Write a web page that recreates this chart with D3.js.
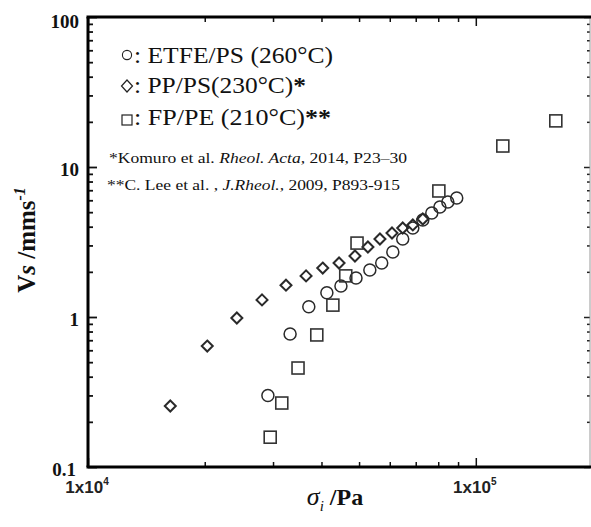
<!DOCTYPE html>
<html><head><meta charset="utf-8">
<script src="https://cdn.jsdelivr.net/npm/d3@7"></script>
<style>body{margin:0;background:#fff} svg{display:block}</style>
</head><body><svg id="c" width="591" height="527"></svg>
<script>
// ETFE/PS (260°C) – circles
const etfeX = [29100, 33200, 37100, 41300, 44900, 49100, 53300, 57200, 61100, 64800, 68800, 73000, 77000, 80800, 84700, 89300];
const etfeY = [0.30, 0.77, 1.17, 1.45, 1.61, 1.82, 2.06, 2.29, 2.71, 3.31, 3.92, 4.43, 4.94, 5.41, 5.84, 6.22];
// PP/PS (230°C) – diamonds
const ppX = [16300, 20300, 24200, 28100, 32400, 36500, 40300, 44400, 48800, 52700, 56600, 60800, 64800, 68800, 73000];
const ppY = [0.255, 0.64, 0.985, 1.30, 1.63, 1.88, 2.12, 2.29, 2.55, 2.93, 3.31, 3.63, 3.92, 4.11, 4.50];
// FP/PE (210°C) – squares
const fpX = [29500, 31600, 34800, 38900, 42800, 46200, 49400, 80300, 117400, 160800];
const fpY = [0.158, 0.267, 0.457, 0.759, 1.20, 1.88, 3.11, 6.92, 13.8, 20.3];

const yTickVals = [0.1, 1, 10, 100];
const yTickLabels = ["0.1", "1", "10", "100"];
const xTickVals = [1e4, 1e5];
const xTickBase = ["1x10", "1x10"];
const xTickExp = ["4", "5"];

const svg = d3.select("#c");
const L = 88, R = 590, T = 17, B = 467;
const x = d3.scaleLog().domain([1e4, 1.97e5]).range([L, R]);
const y = d3.scaleLog().domain([0.1, 100]).range([B, T]);

const yMinor = [], xMinor = [];
for (let d = 0.1; d < 100; d *= 10) for (let k = 2; k <= 9; k++) yMinor.push(+(d * k).toPrecision(3));
for (let d = 1e4; d < 2e5; d *= 10) for (let k = 2; k <= 9; k++) { const v = d * k; if (v <= 1.97e5) xMinor.push(v); }

function styleAxis(g, w, col) {
  g.select(".domain").remove();
  g.selectAll(".tick line").attr("stroke", col).attr("stroke-width", w);
  g.selectAll(".tick text").remove();
}
// left axis
svg.append("g").attr("transform", `translate(${L},0)`)
  .call(d3.axisLeft(y).tickValues(yMinor).tickSize(-5).tickFormat("")).call(g => styleAxis(g, 1.8, "#111"));
svg.append("g").attr("transform", `translate(${L},0)`)
  .call(d3.axisLeft(y).tickValues(yTickVals).tickSize(-9).tickFormat("")).call(g => styleAxis(g, 1.8, "#111"));
// right axis
svg.append("g").attr("transform", `translate(${R},0)`)
  .call(d3.axisRight(y).tickValues(yMinor).tickSize(-3).tickFormat("")).call(g => styleAxis(g, 1.5, "#222"));
svg.append("g").attr("transform", `translate(${R},0)`)
  .call(d3.axisRight(y).tickValues(yTickVals).tickSize(-6).tickFormat("")).call(g => styleAxis(g, 1.5, "#222"));
// bottom axis
svg.append("g").attr("transform", `translate(0,${B})`)
  .call(d3.axisBottom(x).tickValues(xMinor).tickSize(-5).tickFormat("")).call(g => styleAxis(g, 1.5, "#111"));
svg.append("g").attr("transform", `translate(0,${B})`)
  .call(d3.axisBottom(x).tickValues(xTickVals).tickSize(-9).tickFormat("")).call(g => styleAxis(g, 1.5, "#111"));
// top axis
svg.append("g").attr("transform", `translate(0,${T})`)
  .call(d3.axisTop(x).tickValues(xMinor).tickSize(-5).tickFormat("")).call(g => styleAxis(g, 1.5, "#111"));
svg.append("g").attr("transform", `translate(0,${T})`)
  .call(d3.axisTop(x).tickValues(xTickVals).tickSize(-9).tickFormat("")).call(g => styleAxis(g, 1.5, "#111"));

// frame
svg.append("line").attr("x1", R).attr("x2", R).attr("y1", T).attr("y2", B).attr("stroke", "#999").attr("stroke-width", 1);
svg.append("line").attr("x1", L - 1.5).attr("x2", R + 1).attr("y1", T).attr("y2", T).attr("stroke", "#000").attr("stroke-width", 3);
svg.append("line").attr("x1", L - 1.5).attr("x2", R + 1).attr("y1", B).attr("y2", B).attr("stroke", "#000").attr("stroke-width", 3);
svg.append("line").attr("x1", L).attr("x2", L).attr("y1", T).attr("y2", B).attr("stroke", "#000").attr("stroke-width", 3);

// y tick labels
svg.append("g").selectAll("text").data(yTickVals).join("text")
  .attr("x", (d, i) => i === 0 ? 76 : 79).attr("y", d => y(d) + (d === 100 ? 11 : 9))
  .attr("text-anchor", "end").attr("font-family", "Liberation Serif, Times New Roman, serif")
  .attr("font-weight", "bold").attr("font-size", 19).attr("fill", "#111")
  .text((d, i) => yTickLabels[i]);

// x tick labels
const xl = svg.append("g").selectAll("text").data(xTickVals).join("text")
  .attr("x", d => x(d) - 1).attr("y", 493).attr("text-anchor", "middle")
  .attr("font-family", "Liberation Sans Narrow, Liberation Sans, Arial, sans-serif")
  .attr("font-weight", "bold").attr("font-size", 17).attr("fill", "#222");
xl.append("tspan").text((d, i) => xTickBase[i]);
xl.append("tspan").attr("dy", -8).attr("font-size", 10).text((d, i) => xTickExp[i]);

// markers
const stroke = "#2a2a2a";
svg.append("g").selectAll("circle").data(d3.zip(etfeX, etfeY)).join("circle")
  .attr("cx", d => x(d[0])).attr("cy", d => y(d[1])).attr("r", 6)
  .attr("fill", "none").attr("stroke", stroke).attr("stroke-width", 1.5);
svg.append("g").selectAll("path").data(d3.zip(ppX, ppY)).join("path")
  .attr("d", d => { const cx = x(d[0]), cy = y(d[1]), h = 5.5; return `M${cx},${cy - h}L${cx + h},${cy}L${cx},${cy + h}L${cx - h},${cy}Z`; })
  .attr("fill", "none").attr("stroke", stroke).attr("stroke-width", 2);
svg.append("g").selectAll("rect").data(d3.zip(fpX, fpY)).join("rect")
  .attr("x", d => x(d[0]) - 6).attr("y", d => y(d[1]) - 6).attr("width", 12).attr("height", 12)
  .attr("fill", "none").attr("stroke", "#333").attr("stroke-width", 1.6);

// legend
const serif = "Liberation Serif, Times New Roman, serif";
const lg = svg.append("g");
lg.append("circle").attr("cx", 127).attr("cy", 55).attr("r", 4.6).attr("fill", "none").attr("stroke", "#222").attr("stroke-width", 1.1);
lg.append("path").attr("d", "M127,80L132.5,86L127,92L121.5,86Z").attr("fill", "none").attr("stroke", "#222").attr("stroke-width", 1.2);
lg.append("rect").attr("x", 122).attr("y", 115).attr("width", 10).attr("height", 10).attr("fill", "none").attr("stroke", "#222").attr("stroke-width", 1.2);
const legendTexts = [": ETFE/PS (260°C)", ": PP/PS(230°C)", ": FP/PE (210°C)"];
const legendStars = ["", "*", "**"];
const legendY = [63, 93, 125];
const legendLen = [199, 172, 197];
legendTexts.forEach((t, i) => {
  const tx = lg.append("text").attr("x", 134).attr("y", legendY[i]).attr("font-family", serif).attr("font-size", 24).attr("fill", "#111")
    .attr("textLength", legendLen[i]).attr("lengthAdjust", "spacingAndGlyphs");
  tx.append("tspan").text(t);
  tx.append("tspan").attr("font-weight", "bold").text(legendStars[i]);
});

// references
const r1 = svg.append("text").attr("x", 109).attr("y", 163).attr("font-family", serif).attr("font-size", 15.5).attr("fill", "#111")
  .attr("textLength", 298).attr("lengthAdjust", "spacingAndGlyphs");
r1.append("tspan").text("*Komuro et al. ");
r1.append("tspan").attr("font-style", "italic").text("Rheol. Acta,");
r1.append("tspan").text(" 2014, P23–30");
const r2 = svg.append("text").attr("x", 107).attr("y", 190).attr("font-family", serif).attr("font-size", 15.5).attr("fill", "#111")
  .attr("textLength", 293).attr("lengthAdjust", "spacingAndGlyphs");
r2.append("tspan").text("**C. Lee et al. , ");
r2.append("tspan").attr("font-style", "italic").text("J.Rheol.,");
r2.append("tspan").text(" 2009, P893-915");

// y axis title
const yt = svg.append("text").attr("transform", "translate(35,240) rotate(-90)").attr("text-anchor", "middle")
  .attr("font-family", serif).attr("font-weight", "bold").attr("font-size", 25).attr("fill", "#111");
yt.append("tspan").text("V");
yt.append("tspan").attr("font-style", "italic").text("s");
yt.append("tspan").text(" /mms");
yt.append("tspan").attr("font-style", "italic").attr("font-size", 16).attr("dy", -10).text("-1");

// x axis title
const xt = svg.append("text").attr("x", 335).attr("y", 505).attr("text-anchor", "middle")
  .attr("font-family", serif).attr("font-weight", "bold").attr("font-size", 24).attr("fill", "#111");
xt.append("tspan").attr("font-style", "italic").attr("font-weight", "normal").attr("font-size", 26).text("σ");
xt.append("tspan").attr("font-style", "italic").attr("font-weight", "normal").attr("font-size", 15).attr("dy", 6).text("i");
xt.append("tspan").attr("dy", -6).text(" /Pa");
</script></body></html>
